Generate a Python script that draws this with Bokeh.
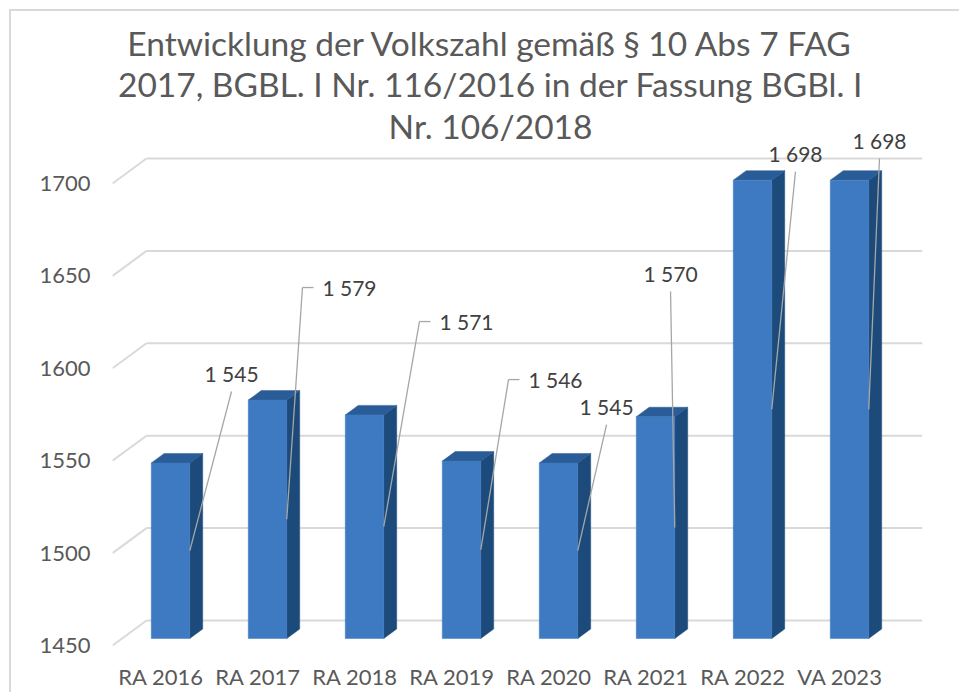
from bokeh.plotting import figure
from bokeh.models import Range1d, FixedTicker, ColumnDataSource, Label
from bokeh.embed import file_html
from bokeh.resources import INLINE
from bokeh.core.properties import value

# ---------------- data ----------------
categories = ["RA 2016", "RA 2017", "RA 2018", "RA 2019", "RA 2020", "RA 2021", "RA 2022", "VA 2023"]
population = [1545, 1579, 1571, 1546, 1545, 1570, 1698, 1698]
value_labels = ["1 545", "1 579", "1 571", "1 546", "1 545", "1 570", "1 698", "1 698"]
y_ticks = [1450, 1500, 1550, 1600, 1650, 1700]
title_lines = [
    "Entwicklung der Volkszahl gemäß § 10 Abs 7 FAG",
    "2017, BGBL. I Nr. 116/2016 in der Fassung BGBl. I",
    "Nr. 106/2018",
]

# ---------------- layout (pseudo-3D geometry) ----------------
BASE = 1450
PX_X = 97.0          # pixels per category step
PX_Y = 1.848         # pixels per population unit
DEPTH_X = 34 / PX_X  # back-wall shift (x, data units)
DEPTH_Y = 25 / PX_Y  # back-wall shift (y, data units)
BAR_FRONT = 0.28     # depth fraction of bar front face
BAR_DEPTH = 0.38     # depth fraction of bar thickness
BAR_W = 38.5 / PX_X

# data-label placement (layout, in axis units)
label_x = [0.727, 1.943, 3.149, 4.067, 4.593, 5.253, 6.541, 7.407]
label_y = [1597.2, 1643.7, 1625.3, 1593.9, 1579.3, 1651.3, 1716.2, 1723.3]
label_tick = [False, True, True, True, False, False, False, False]

FRONT = "#3E7AC1"
SIDE = "#1C4A7B"
TOP = "#2A5C97"
GRID = "#D9D9D9"
TXT = "#595959"

ORIG = 11            # canvas origin on the page (margin + border)
FRAME_L, FRAME_R, FRAME_B = 112, 922, 650
FRONT_BASE_PY = 645

n = len(categories)
W, H = 950, 683
x_lo = -0.5
x_hi = x_lo + (FRAME_R - FRAME_L) / PX_X
y_lo = BASE - (FRAME_B - FRONT_BASE_PY) / PX_Y
y_hi = BASE + (FRONT_BASE_PY - ORIG) / PX_Y

p = figure(width=W, height=H, output_backend="svg", toolbar_location=None,
           x_range=Range1d(x_lo, x_hi), y_range=Range1d(y_lo, y_hi),
           min_border_left=FRAME_L - ORIG, min_border_right=W - (FRAME_R - ORIG),
           min_border_top=0, min_border_bottom=H - (FRAME_B - ORIG))
p.margin = (9, 0, 0, 9)
p.styles = {"border-left": "2px solid #D9D9D9", "border-top": "2px solid #D9D9D9"}
p.outline_line_color = None
p.xgrid.visible = False
p.ygrid.visible = False
p.background_fill_color = "white"
p.border_fill_color = "white"

# back-wall gridlines with left-wall diagonals
gx0, gy0, gx1, gy1 = [], [], [], []
for t in y_ticks:
    gx0 += [x_lo, x_lo + DEPTH_X]
    gy0 += [t, t + DEPTH_Y]
    gx1 += [x_lo + DEPTH_X, n - 0.5 + DEPTH_X]
    gy1 += [t + DEPTH_Y, t + DEPTH_Y]
p.segment(gx0, gy0, gx1, gy1, line_color=GRID, line_width=2)

# bars
ox = BAR_FRONT * DEPTH_X
oy = BAR_FRONT * DEPTH_Y
dx = BAR_DEPTH * DEPTH_X
dy = BAR_DEPTH * DEPTH_Y
front_xs, front_ys, side_xs, side_ys, top_xs, top_ys = [], [], [], [], [], []
for i, v in enumerate(population):
    xl = i + ox - BAR_W / 2
    xr = i + ox + BAR_W / 2
    yb = BASE + oy
    yt = v + oy
    front_xs.append([xl, xr, xr, xl]); front_ys.append([yb, yb, yt, yt])
    side_xs.append([xr, xr + dx, xr + dx, xr]); side_ys.append([yb, yb + dy, yt + dy, yt])
    top_xs.append([xl, xr, xr + dx, xl + dx]); top_ys.append([yt, yt, yt + dy, yt + dy])
p.patches(side_xs, side_ys, fill_color=SIDE, line_color=SIDE, line_width=0.5)
p.patches(top_xs, top_ys, fill_color=TOP, line_color=TOP, line_width=0.5)
p.patches(front_xs, front_ys, fill_color=FRONT, line_color=FRONT, line_width=0.5)

# leader lines
lx0, ly0, lx1, ly1 = [], [], [], []
tx0, ty0, tx1, ty1 = [], [], [], []
for i, v in enumerate(population):
    ex = i + ox + BAR_W / 2
    ey = (BASE + v) / 2 + oy
    if label_tick[i]:
        sx = label_x[i] - 47 / PX_X
        sy = label_y[i]
        tx0.append(sx); ty0.append(sy); tx1.append(label_x[i] - 36 / PX_X); ty1.append(sy)
    else:
        sx = label_x[i]
        sy = label_y[i] - 18 / PX_Y
    lx0.append(sx); ly0.append(sy); lx1.append(ex); ly1.append(ey)
p.segment(lx0, ly0, lx1, ly1, line_color="#A6A6A6", line_width=1.3)
p.segment(tx0, ty0, tx1, ty1, line_color="#A6A6A6", line_width=1.3)

src = ColumnDataSource(dict(x=label_x, y=label_y, t=value_labels))
p.text(x="x", y="y", text="t", source=src, text_align="center", text_baseline="middle",
       text_font=value("Lato"), text_font_size="21px", text_color="#404040")

# title
def py_to_y(py):
    return BASE + (FRONT_BASE_PY - py) / PX_Y

def px_to_x(px):
    return x_lo + (px - FRAME_L) / PX_X

for k, line in enumerate(title_lines):
    p.add_layout(Label(x=px_to_x(490), y=py_to_y(42 + 41.5 * k), text=line,
                       text_align="center", text_baseline="middle",
                       text_font="Lato", text_font_size="33.5px", text_color=TXT))

# axes
p.xaxis.ticker = FixedTicker(ticks=list(range(n)))
p.xaxis.major_label_overrides = {i: c for i, c in enumerate(categories)}
p.yaxis.ticker = FixedTicker(ticks=y_ticks)
for ax in (p.xaxis, p.yaxis):
    ax.axis_line_color = None
    ax.major_tick_line_color = None
    ax.minor_tick_line_color = None
    ax.major_tick_out = 0
    ax.major_tick_in = 0
    ax.major_label_text_font = "Lato"
    ax.major_label_text_font_size = "22px"
    ax.major_label_text_color = TXT
p.xaxis.major_label_standoff = 12
p.yaxis.major_label_standoff = 22

open("out.html", "w").write(file_html(p, INLINE))
